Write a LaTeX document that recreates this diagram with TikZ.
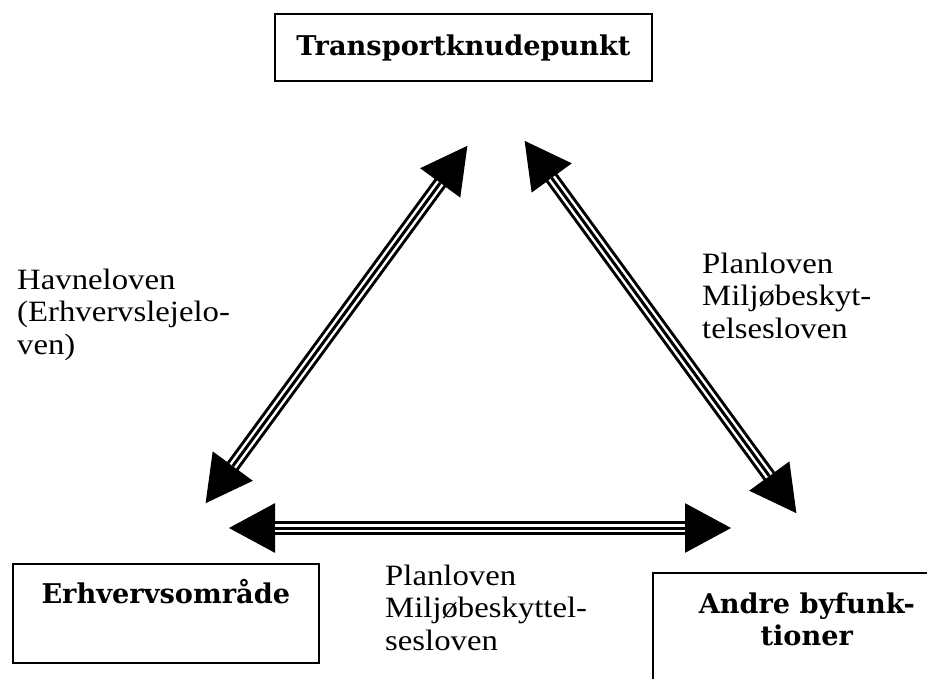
\documentclass[tikz,border=0pt]{standalone}
\usepackage{fontspec}
\setmainfont{Liberation Serif}
\newfontfamily\headfont{DejaVu Serif}[BoldFont={DejaVu Serif Bold}]
\newfontfamily\lawfont{Liberation Serif}[FakeStretch=1.11]
\usetikzlibrary{arrows.meta}

\begin{document}
\begin{tikzpicture}[x=1pt,y=-1pt,
  lawbox/.style={draw,line width=1.6pt,inner sep=0pt,align=center,
    font=\headfont\bfseries\fontsize{27.2}{32}\selectfont},
  lawtext/.style={inner sep=0pt,anchor=base west,align=left,
    font=\lawfont\fontsize{29.5}{32.5}\selectfont},
  bigtip/.tip={Triangle[length=47pt,width=46pt]},
  triple/.style={line width=14pt,bigtip-bigtip}]
\useasboundingbox (0,0) rectangle (927,678);
\node[lawbox,minimum width=377pt,minimum height=67pt] (trans) at (463.5,47.5) {Transportknudepunkt};
\node[lawbox,minimum width=306pt,text height=40pt,text depth=59pt,anchor=north west] (erhv) at (12,563) {Erhvervsområde};
\node[lawbox,minimum width=308pt,text height=73pt,text depth=60pt,anchor=north west] (andre) at (652,572) {Andre byfunk-\\tioner};
% base anchor sits on the last line
\node[lawtext] (havn) at (17,354) {Havneloven\\(Erhvervslejelo-\\ven)};
\node[lawtext] (planr) at (702,338) {Planloven\\Miljøbeskyt-\\telsesloven};
\node[lawtext] (planb) at (385,650) {Planloven\\Miljøbeskyttel-\\sesloven};
\coordinate (lb) at (205,504);
\coordinate (lt) at (468,145);
\coordinate (rt) at (524,140);
\coordinate (rb) at (797,514);
\coordinate (hl) at (228,528);
\coordinate (hr) at (732,528);
\foreach \a/\b in {lb/lt,rt/rb,hl/hr} {
  \draw[triple] (\a) -- (\b);
  \draw[white,line width=8pt,shorten <=47pt,shorten >=47pt] (\a) -- (\b);
  \draw[line width=3pt,shorten <=47pt,shorten >=47pt] (\a) -- (\b);
}
\end{tikzpicture}
\end{document}
